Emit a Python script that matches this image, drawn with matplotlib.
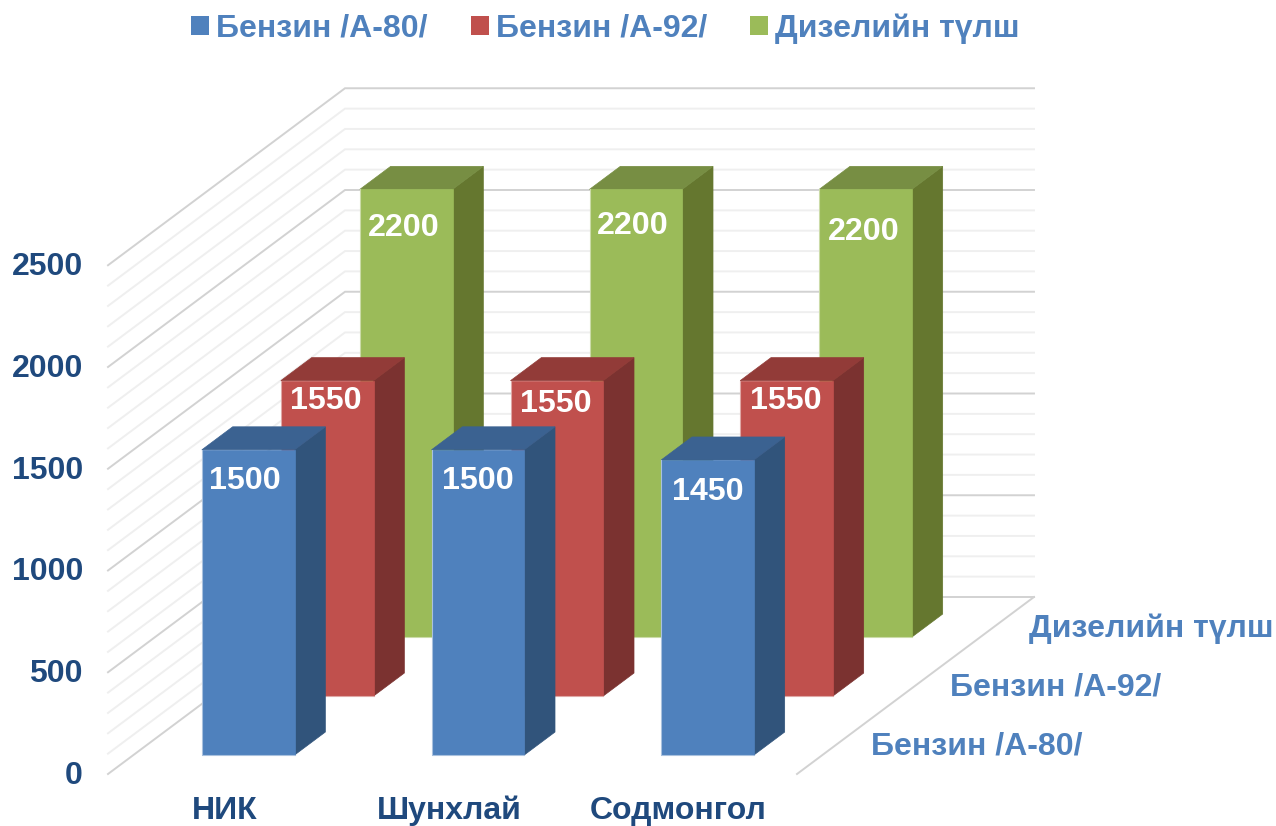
import numpy as np
import matplotlib
matplotlib.use('Agg')
import matplotlib.pyplot as plt
from matplotlib.patches import Polygon, Patch

plt.rcParams['font.family'] = ['Liberation Sans', 'DejaVu Sans']
plt.rcParams['font.weight'] = 'bold'

categories = ['НИК', 'Шунхлай', 'Содмонгол']
series_names = ['Бензин /А-80/', 'Бензин /А-92/', 'Дизелийн түлш']
benzin_80 = [1500, 1500, 1450]
benzin_92 = [1550, 1550, 1550]
diesel = [2200, 2200, 2200]
y_ticks = [0, 500, 1000, 1500, 2000, 2500]
y_minor = np.arange(0, 2600, 100)

colors = ['#4F81BD', '#C0504D', '#9BBB59']
side_colors = ['#31547B', '#7B3230', '#65772F']
top_colors = ['#3B6291', '#923B38', '#778E43']
edge_colors = ['#A9C1DE', '#DFA8A6', '#CBDBA8']
label_blue = '#4F81BD'
label_navy = '#1F497D'

# oblique projection, all in pixels of the output picture
left = 108
base = 774
width = 689
depth_x = 237
depth_y = 177
y_scale = 0.2035


def project(u, d, v):
    # u = categories across, d = series into the picture, v = value
    return (left + u * width / 3 + d * depth_x, base - v * y_scale - d * depth_y)


fig = plt.figure(figsize=(12.76, 8.26), dpi=100)
ax = fig.add_axes([0, 0, 1, 1])
ax.set_xlim(0, 1276)
ax.set_ylim(826, 0)
ax.axis('off')

# walls
for v in y_minor:
    major = v % 500 == 0
    pts = [project(0, 0, v), project(0, 1, v), project(3, 1, v)]
    ax.plot([p[0] for p in pts], [p[1] for p in pts],
            color='#D2D2D2' if major else '#EFEFEF', lw=1.4, zorder=1,
            solid_joinstyle='miter')
pts = [project(3, 0, 0), project(3, 1, 0)]
ax.plot([p[0] for p in pts], [p[1] for p in pts], color='#D2D2D2', lw=1.4, zorder=1)

bar_w = 0.4035
bar_gap = (1 - bar_w) / 2
bar_d = 0.13
d_step = 1 / 3
d_gap = 0.107


def draw_bar(i, j, value, z):
    u0 = i + bar_gap
    u1 = u0 + bar_w
    d0 = d_gap + j * d_step
    d1 = d0 + bar_d
    front = [project(u0, d0, 0), project(u1, d0, 0), project(u1, d0, value), project(u0, d0, value)]
    side = [project(u1, d0, 0), project(u1, d1, 0), project(u1, d1, value), project(u1, d0, value)]
    top = [project(u0, d0, value), project(u1, d0, value), project(u1, d1, value), project(u0, d1, value)]
    ax.add_patch(Polygon(side, closed=True, fc=side_colors[j], ec=side_colors[j], lw=0.5, zorder=z))
    ax.add_patch(Polygon(top, closed=True, fc=top_colors[j], ec=top_colors[j], lw=0.5, zorder=z))
    ax.add_patch(Polygon(front, closed=True, fc=colors[j], ec=colors[j], lw=0.5, zorder=z + 0.1))
    # pale rim only on the left and bottom of the front face
    ax.plot([front[3][0], front[0][0], front[1][0]], [front[3][1], front[0][1], front[1][1]],
            color=edge_colors[j], lw=0.8, zorder=z + 0.2)
    return front


# label nudges, the original labels were placed by hand
nudge_x = [[-3, 0, 0], [-1, -1, -1], [-2, -3, -2]]
nudge_y = [[-1, -1, 0], [0, 3, 0], [0, -2, 4]]
label_drop = [32, 20, 39]
values = [benzin_80, benzin_92, diesel]
for j in [2, 1, 0]:
    for i in range(3):
        front = draw_bar(i, j, values[j][i], 5 + (2 - j))
        cx = (front[0][0] + front[1][0]) / 2 + nudge_x[j][i]
        cy = front[3][1] + label_drop[j] + nudge_y[j][i]
        ax.text(cx, cy, str(values[j][i]), color='white', fontsize=23.2, ha='center', va='center',
                zorder=20)

# value axis
for v in y_ticks:
    x, y = project(0, 0, v)
    ax.text(83, y + 2, str(v), color=label_navy, fontsize=23, ha='right', va='center')

# category axis
cat_nudge = [2, -3, -4]
for i, name in enumerate(categories):
    x, y = project(i + 0.5, 0, 0)
    ax.text(x + cat_nudge[i], 811, name, color=label_navy, fontsize=23, ha='center', va='center')

# series axis
for j, name in enumerate(series_names):
    x, y = project(3, d_gap + j * d_step + bar_d / 2, 0)
    ax.text(x + 33, y + 3, name, color=label_blue, fontsize=23, ha='left', va='center')

handles = [Patch(fc=colors[j], ec='none', label=series_names[j]) for j in range(3)]
leg = ax.legend(handles=handles, ncol=3, loc='upper left', bbox_to_anchor=(191 / 1276, 1 - 13 / 826),
                frameon=False, fontsize=23, handlelength=0.56, handleheight=0.53,
                handletextpad=0.22, columnspacing=1.36, borderaxespad=0, borderpad=0)
for t in leg.get_texts():
    t.set_color(label_blue)

fig.savefig('out.png', dpi=100)
